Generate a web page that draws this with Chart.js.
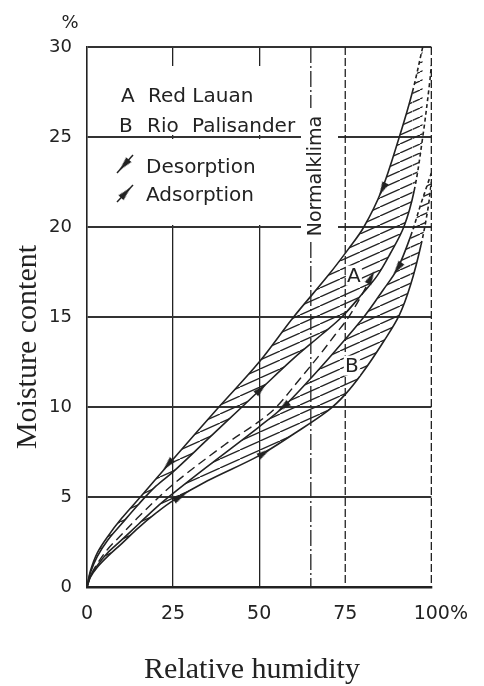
<!DOCTYPE html>
<html>
<head>
<meta charset="utf-8">
<script src="https://cdn.jsdelivr.net/npm/chart.js@4.4.0/dist/chart.umd.min.js"></script>
<style>
  html, body { margin: 0; padding: 0; background: #fff; }
</style>
</head>
<body>
<canvas id="chart" width="484" height="686"></canvas>
<script>
// =====================
// Data
// =====================
const xTicks = [0, 25, 50, 75, 100];
const yTicks = [0, 5, 10, 15, 20, 25, 30];
const normalKlima = 65;

// A Red Lauan
const redLauanDes = [[0, 0], [1, 0.9], [3, 1.9], [6, 2.8], [10, 3.8], [15.5, 5], [25, 7.1], [38.3, 10], [50, 12.5], [60, 15], [70, 17.3], [76, 18.8], [80.4, 20], [85.5, 22], [90.7, 25], [94.5, 27.5], [97.5, 30]];
const redLauanAds = [[0, 0], [1, 0.8], [3, 1.7], [6, 2.6], [10, 3.5], [15, 4.6], [20, 5.6], [25, 6.4], [35, 8.2], [45, 10], [50.5, 11], [60, 12.7], [68, 14], [74, 15], [80, 16.3], [84.3, 17.3], [88, 18.5], [92, 20], [95, 22], [97.5, 25], [99.5, 28], [100, 29]];
// dashed curve between the bands
const midCurve = [[0, 0], [1, 0.6], [3, 1.3], [6, 2.1], [10, 2.9], [15, 3.9], [25, 5.7], [40, 7.9], [50, 9.2], [55, 10], [62, 11.6], [68, 13], [72, 14], [76, 15], [80, 16.3], [83, 17.4]];
// B Rio Palisander
const rioDes = [[0, 0], [1, 0.6], [3, 1.2], [6, 1.9], [10, 2.6], [15, 3.5], [20, 4.4], [25, 5.2], [35, 6.7], [50, 8.9], [57, 10], [65, 11.6], [72, 13.1], [80.4, 15], [86, 16.5], [90.2, 17.7], [94, 19.5], [97, 21.3], [100, 23]];
const rioAds = [[0, 0], [1, 0.55], [3, 1.1], [6, 1.7], [10, 2.4], [15, 3.3], [20, 4.1], [25, 4.8], [35, 5.9], [50, 7.3], [60, 8.5], [70, 9.8], [75, 10.7], [80, 11.9], [86, 13.6], [90.7, 15.1], [94, 16.8], [97, 19], [99, 21], [100, 22.5]];

// arrow marks sitting on the curves
const desArrowsA = [[23.5, 6.8], [85.8, 22.1]];
const adsArrowsA = [[50.5, 11]];
const desArrowsB = [[57, 10], [90.2, 17.7]];
const adsArrowsB = [[27, 5], [51.5, 7.45]];
const adsArrowsMid = [[82.5, 17.2]];

const ink = '#222';
const toXY = arr => arr.map(([x, y]) => ({ x, y }));

const canvas = document.getElementById('chart');
const ctx = canvas.getContext('2d');

// =====================
// Hatch pattern + arrow head
// =====================
const makeHatch = () => {
  const c = document.createElement('canvas');
  const W = 20, H = 9;
  c.width = W; c.height = H;
  const g = c.getContext('2d');
  g.strokeStyle = ink;
  g.lineWidth = 1.3;
  for (const dx of [-W, 0, W]) {
    g.beginPath();
    g.moveTo(dx, H);
    g.lineTo(dx + W, 0);
    g.stroke();
  }
  return ctx.createPattern(c, 'repeat');
};

const makeArrowHead = () => {
  const c = document.createElement('canvas');
  c.width = 16; c.height = 8;
  const g = c.getContext('2d');
  g.fillStyle = ink;
  g.beginPath();
  g.moveTo(1, 0.5);
  g.lineTo(15, 4);
  g.lineTo(1, 7.5);
  g.closePath();
  g.fill();
  return c;
};

const hatch = makeHatch();
const arrowHead = makeArrowHead();

// direction of a curve near a point, in screen degrees
const curveAngle = (chart, curve, px, py) => {
  const sx = chart.scales.x, sy = chart.scales.y;
  let best = 0, bd = Infinity;
  for (let i = 0; i < curve.length - 1; i++) {
    const mx = (curve[i][0] + curve[i + 1][0]) / 2;
    const my = (curve[i][1] + curve[i + 1][1]) / 2;
    const d = (mx - px) ** 2 + ((my - py) * 3) ** 2;
    if (d < bd) { bd = d; best = i; }
  }
  const a = curve[best], b = curve[best + 1];
  const dx = sx.getPixelForValue(b[0]) - sx.getPixelForValue(a[0]);
  const dy = sy.getPixelForValue(b[1]) - sy.getPixelForValue(a[1]);
  return Math.atan2(dy, dx) * 180 / Math.PI;
};

const curveSet = (data, opts = {}) => ({
  data: toXY(data),
  borderColor: ink,
  borderWidth: 1.6,
  pointRadius: 0,
  tension: 0.35,
  capBezierPoints: false,
  fill: false,
  ...opts
});

const arrowSet = (points, curve, down) => ({
  data: toXY(points),
  showLine: false,
  pointStyle: arrowHead,
  pointRadius: 6,
  pointRotation: c => {
    if (!c.raw) return 0;
    const a = curveAngle(c.chart, curve, c.raw.x, c.raw.y);
    return down ? a + 180 : a;
  }
});

const dashFrom = x0 => ({
  borderDash: s => (s.p0.parsed.x >= x0 ? [4, 3] : undefined)
});

// =====================
// Decorations: grid gaps, dashed verticals, texts
// =====================
const line = (c, x1, y1, x2, y2) => {
  c.beginPath(); c.moveTo(x1, y1); c.lineTo(x2, y2); c.stroke();
};

const decor = {
  id: 'decor',
  beforeDatasetsDraw(chart) {
    const { ctx: c, chartArea: a, scales: { x, y } } = chart;
    const y25 = y.getPixelForValue(25);
    const y20 = y.getPixelForValue(20);
    const boxRight = 301;
    c.save();
    c.fillStyle = '#fff';
    c.fillRect(a.left + 1.5, a.top + 19, boxRight - a.left - 1.5, y25 - 2 - a.top - 19);
    c.fillRect(a.left + 1.5, y25 + 2, boxRight - a.left - 1.5, y20 - 2 - y25 - 2);
    c.fillRect(boxRight, 108, 37, 134);

    c.strokeStyle = ink;
    c.lineWidth = 1.3;
    c.setLineDash([8, 3]);
    for (const v of [75, 100]) {
      const px = x.getPixelForValue(v);
      line(c, px, a.top, px, a.bottom);
    }
    c.setLineDash([16, 3, 2, 3]);
    const nx = x.getPixelForValue(normalKlima);
    line(c, nx, a.top, nx, 108);
    line(c, nx, 242, nx, a.bottom);
    c.restore();
  },
  afterDatasetsDraw(chart) {
    const { ctx: c, scales: { x, y } } = chart;
    c.save();
    c.fillStyle = ink;
    c.strokeStyle = ink;

    // legend
    c.font = '20px "DejaVu Sans"';
    c.textAlign = 'left';
    c.textBaseline = 'alphabetic';
    c.fillText('A', 121, 102);
    c.fillText('Red Lauan', 148, 102);
    c.fillText('B', 119, 132);
    c.fillText('Rio', 147, 132);
    c.fillText('Palisander', 192, 132);
    c.fillText('Desorption', 146, 173);
    c.fillText('Adsorption', 146, 201);

    const marker = (x1, y1, x2, y2) => {
      c.lineWidth = 1.5;
      line(c, x1, y1, x2, y2);
      const mx = x1 + (x2 - x1) * 0.55, my = y1 + (y2 - y1) * 0.55;
      c.save();
      c.translate(mx, my);
      c.rotate(Math.atan2(y2 - y1, x2 - x1));
      c.drawImage(arrowHead, -8, -4);
      c.restore();
    };
    marker(133, 155, 117, 173);
    marker(117, 202, 133, 185);

    // Normalklima
    c.save();
    c.translate(x.getPixelForValue(normalKlima) + 10, 176);
    c.rotate(-Math.PI / 2);
    c.font = '19px "DejaVu Sans"';
    c.textAlign = 'center';
    c.fillText('Normalklima', 0, 0);
    c.restore();

    // A / B labels inside the bands
    c.font = '20px "DejaVu Sans"';
    c.textAlign = 'center';
    c.textBaseline = 'middle';
    const tag = (t, vx, vy) => {
      const px = x.getPixelForValue(vx), py = y.getPixelForValue(vy);
      c.fillStyle = '#fff';
      c.fillRect(px - 8, py - 10, 16, 20);
      c.fillStyle = ink;
      c.fillText(t, px, py + 1);
    };
    tag('A', 77.5, 17.3);
    tag('B', 76.9, 12.3);

    // unit on top of the y axis
    c.font = '18px "DejaVu Sans"';
    c.fillText('%', 70, 23);

    // axis titles
    c.font = '30px "Liberation Serif"';
    c.textBaseline = 'alphabetic';
    c.fillText('Relative humidity', 252, 678);
    c.save();
    c.translate(36, 347);
    c.rotate(-Math.PI / 2);
    c.fillText('Moisture content', 0, 0);
    c.restore();
    c.restore();
  }
};

// =====================
// Chart
// =====================
new Chart(ctx, {
  type: 'line',
  data: {
    datasets: [
      curveSet(redLauanDes, { fill: '+1', backgroundColor: hatch, segment: dashFrom(94.5) }),
      curveSet(redLauanAds, { segment: dashFrom(95) }),
      curveSet(midCurve, { borderDash: [9, 5], borderWidth: 1.4 }),
      curveSet(rioDes, { fill: '+1', backgroundColor: hatch, segment: dashFrom(94) }),
      curveSet(rioAds, { segment: dashFrom(95) }),
      arrowSet(desArrowsA, redLauanDes, true),
      arrowSet(adsArrowsA, redLauanAds, false),
      arrowSet(desArrowsB, rioDes, true),
      arrowSet(adsArrowsB, rioAds, false),
      arrowSet(adsArrowsMid, midCurve, false)
    ]
  },
  options: {
    responsive: false,
    animation: false,
    layout: { padding: { top: 47, right: 41, left: 0, bottom: 0 } },
    plugins: {
      legend: { display: false },
      tooltip: { enabled: false }
    },
    scales: {
      x: {
        type: 'linear',
        min: xTicks[0],
        max: xTicks[xTicks.length - 1],
        afterFit: s => { s.height = 99; },
        afterBuildTicks: s => { s.ticks = xTicks.map(value => ({ value })); },
        ticks: {
          color: ink,
          padding: 16,
          maxRotation: 0,
          font: { family: 'DejaVu Sans', size: 19 },
          callback: v => (v === 100 ? '\u2003100%' : String(v))
        },
        grid: {
          drawTicks: false,
          color: c => ([25, 50].includes(c.tick && c.tick.value) ? ink : 'rgba(0,0,0,0)'),
          lineWidth: 1.3
        },
        border: { color: ink, width: 2.5 }
      },
      y: {
        type: 'linear',
        min: yTicks[0],
        max: yTicks[yTicks.length - 1],
        afterFit: s => { s.width = 87; },
        afterBuildTicks: s => { s.ticks = yTicks.map(value => ({ value })); },
        ticks: {
          color: ink,
          padding: 15,
          font: { family: 'DejaVu Sans', size: 18 }
        },
        grid: {
          drawTicks: false,
          color: c => (c.tick && c.tick.value === 0 ? 'rgba(0,0,0,0)' : '#333'),
          lineWidth: 2
        },
        border: { color: ink, width: 1.6 }
      }
    }
  },
  plugins: [decor]
});
</script>
</body>
</html>
